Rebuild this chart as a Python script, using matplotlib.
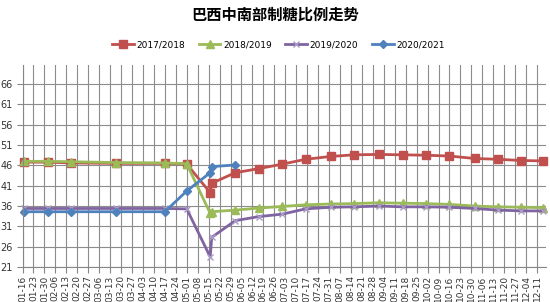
import matplotlib
matplotlib.use("Agg")
import matplotlib.pyplot as plt
import pandas as pd

title = "巴西中南部制糖比例走势"
series_names = ["2017/2018", "2018/2019", "2019/2020", "2020/2021"]

tick_labels = ["01-16", "01-23", "01-30", "02-06", "02-13", "02-20", "02-27",
               "03-06", "03-13", "03-20", "03-27", "04-03", "04-10", "04-17",
               "04-24", "05-01", "05-08", "05-15", "05-22", "05-29", "06-05",
               "06-12", "06-19", "06-26", "07-03", "07-10", "07-17", "07-24",
               "07-31", "08-07", "08-14", "08-21", "08-28", "09-04", "09-11",
               "09-18", "09-25", "10-02", "10-09", "10-16", "10-23", "10-30",
               "11-06", "11-13", "11-20", "11-27", "12-04", "12-11"]

dates = ["01-17", "02-01", "02-16", "03-17", "04-17", "05-01", "05-16", "05-17",
         "06-01", "06-16", "07-01", "07-16", "08-01", "08-16", "09-01", "09-16",
         "10-01", "10-16", "11-01", "11-16", "12-01", "12-15"]

s1718 = [46.8, 46.8, 46.6, 46.5, 46.5, 46.3, 39.3, 41.6, 44.2, 45.2, 46.3, 47.5,
         48.2, 48.6, 48.7, 48.6, 48.5, 48.3, 47.7, 47.5, 47.2, 47.1]
s1819 = [47.0, 47.0, 46.9, 46.7, 46.6, 46.4, 34.2, 34.6, 35.0, 35.5, 35.9, 36.3,
         36.5, 36.6, 36.8, 36.7, 36.6, 36.4, 36.0, 35.8, 35.7, 35.6]
s1920 = [35.4, 35.4, 35.4, 35.4, 35.4, 35.3, 23.5, 28.3, 32.4, 33.4, 34.0, 35.3,
         35.7, 35.8, 36.0, 35.8, 35.8, 35.7, 35.4, 35.0, 34.8, 34.8]
s2021 = [34.6, 34.6, 34.6, 34.6, 34.6, 39.7, 44.2, 45.7, 46.1]

y_ticks = [21, 26, 31, 36, 41, 46, 51, 56, 61, 66]


def doy(s):
    return pd.to_datetime("2021-" + s).dayofyear


xd = [doy(d) for d in dates]
xt = [doy(t) for t in tick_labels]

fig = plt.figure(figsize=(5.5, 3.02), dpi=100)
ax = fig.add_axes([22.5 / 550, 1 - 267 / 302, (546 - 22.5) / 550, (267 - 65) / 302])

styles = [
    dict(color="#C0504D", marker="s", ms=5.5, mfc="#C0504D", mec="#C0504D"),
    dict(color="#9BBB59", marker="^", ms=6, mfc="#9BBB59", mec="#9BBB59"),
    dict(color="#8064A2", marker="x", ms=5, mew=1.0, mec="#A99BC6"),
    dict(color="#4F81BD", marker="D", ms=4, mfc="#4F81BD", mec="#4F81BD"),
]
data = [s1718, s1819, s1920, s2021]
handles = []
for name, vals, st in zip(series_names, data, styles):
    h, = ax.plot(xd[:len(vals)], vals, lw=2.0, label=name, clip_on=False, **st)
    handles.append(h)

ax.set_xlim(doy("01-16"), 350.7)
ax.set_ylim(21, 70.7)
ax.set_yticks(y_ticks)
ax.set_xticks(xt)
ax.set_xticklabels(tick_labels, rotation=90, fontsize=6.5, color="#333333")
ax.tick_params(axis="y", labelsize=7, colors="#333333")
ax.tick_params(axis="both", direction="out", length=4, width=0.8, color="#868686")
ax.tick_params(axis="x", pad=2)
ax.tick_params(axis="y", pad=3)

ax.grid(True, color="#8c8c8c", lw=0.8)
ax.set_axisbelow(True)
for side in ["top", "right"]:
    ax.spines[side].set_visible(False)
for side in ["left", "bottom"]:
    ax.spines[side].set_color("#868686")
    ax.spines[side].set_linewidth(0.8)

fig.legend(handles=handles, loc="center", bbox_to_anchor=(278.5 / 550, 1 - 45 / 302),
           ncol=4, frameon=False, fontsize=6.5, handlelength=2.4,
           handletextpad=0.3, columnspacing=1.5)

fig.text(0.5, 1 - 15 / 302, title, ha="center", va="center", fontsize=11,
         fontweight="bold", family=["Noto Sans CJK SC", "DejaVu Sans"])

fig.savefig("out.png", dpi=100)
